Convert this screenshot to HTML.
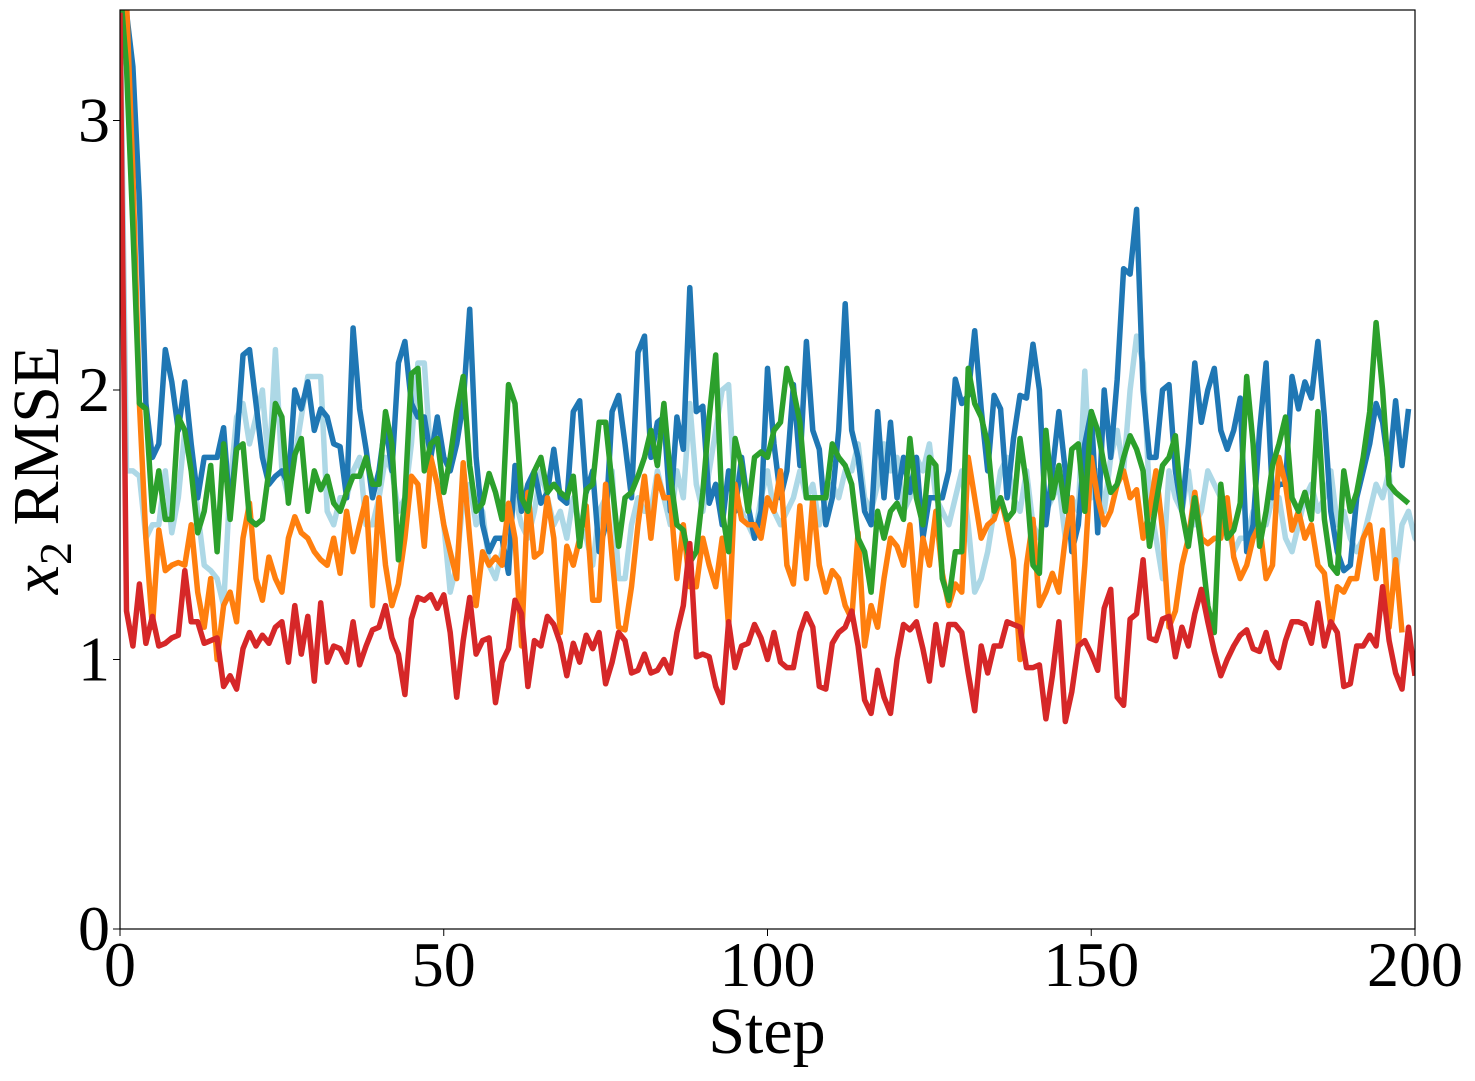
<!DOCTYPE html>
<html><head><meta charset="utf-8"><style>
body{margin:0;background:#fff;}
svg text{font-family:"Liberation Serif",serif;fill:#000;}
</style></head><body>
<svg id="chart" width="1475" height="1076" xmlns="http://www.w3.org/2000/svg">
<defs><clipPath id="clip"><rect x="120" y="10" width="1295" height="919"/></clipPath></defs>
<rect x="0" y="0" width="1475" height="1076" fill="#fff"/>
<g id="series" clip-path="url(#clip)"></g>
<rect x="120" y="10" width="1295" height="919" fill="none" stroke="#000" stroke-width="1.2"/>
<g id="axes"></g>
<text x="767" y="1053" font-size="66" text-anchor="middle">Step</text>
<text transform="translate(58,470) rotate(-90)" font-size="66" text-anchor="middle"><tspan font-style="italic">x</tspan><tspan font-size="46" dy="13">2</tspan><tspan dy="-13"> RMSE</tspan></text>
</svg>
<script>
const xTicks=[0,50,100,150,200];
const yTicks=[0,1,2,3];
const lightBlue=[3.5,1.7,1.7,1.68,1.45,1.5,1.5,1.7,1.47,1.6,1.85,1.75,1.55,1.35,1.33,1.3,1.2,1.65,1.9,1.95,1.8,1.9,2.0,1.7,2.15,1.7,1.6,1.75,1.9,2.05,2.05,2.05,1.55,1.5,1.6,1.6,1.7,1.75,1.5,1.5,1.6,1.75,1.7,1.55,1.6,1.8,2.1,2.1,1.75,1.65,1.5,1.25,1.35,1.6,1.65,1.5,1.55,1.35,1.3,1.4,1.55,1.6,1.5,1.45,1.55,1.7,1.6,1.5,1.55,1.45,1.6,1.5,1.45,1.35,1.55,1.6,1.7,1.3,1.3,1.5,1.6,1.55,1.55,1.7,1.6,1.5,1.7,1.6,1.95,1.65,1.55,1.7,1.85,2.0,2.02,1.6,1.55,1.5,1.45,1.6,1.7,1.55,1.5,1.55,1.6,1.7,1.6,1.65,1.5,1.6,1.65,1.6,1.7,1.7,1.8,1.6,1.55,1.65,1.8,1.7,1.75,1.55,1.6,1.75,1.7,1.8,1.6,1.55,1.5,1.6,1.7,1.5,1.25,1.3,1.4,1.55,1.7,1.75,1.6,1.55,1.7,1.5,1.45,1.55,1.6,1.65,1.45,1.6,1.55,2.07,1.6,1.7,1.55,1.75,1.85,1.7,2.0,2.2,2.1,1.6,1.45,1.3,1.7,1.6,1.55,1.7,1.5,1.55,1.7,1.65,1.6,1.5,1.4,1.45,1.45,1.55,1.5,1.5,1.6,1.6,1.45,1.4,1.5,1.6,1.65,1.55,1.6,1.7,1.5,1.55,1.45,1.4,1.45,1.55,1.65,1.6,1.7,1.3,1.5,1.55,1.45,1.42,1.47];
const blue=[3.5,3.4,3.2,2.7,1.95,1.75,1.8,2.15,2.03,1.85,2.03,1.8,1.6,1.75,1.75,1.75,1.86,1.55,1.8,2.13,2.15,1.95,1.75,1.65,1.68,1.7,1.65,2.0,1.93,2.03,1.85,1.93,1.9,1.8,1.79,1.6,2.23,1.93,1.78,1.6,1.7,1.88,1.7,2.1,2.18,1.95,1.9,1.9,1.75,1.9,1.75,1.7,1.8,1.95,2.3,1.75,1.5,1.4,1.45,1.45,1.32,1.72,1.55,1.65,1.7,1.58,1.62,1.78,1.6,1.58,1.92,1.96,1.62,1.7,1.4,1.5,1.92,1.98,1.8,1.6,2.14,2.2,1.75,1.88,1.9,1.55,1.9,1.78,2.38,1.92,1.94,1.58,1.65,1.5,1.7,1.55,1.75,1.57,1.45,1.55,2.08,1.8,1.6,1.7,2.02,1.72,2.18,1.85,1.78,1.5,1.6,1.85,2.32,1.85,1.75,1.55,1.5,1.92,1.6,1.88,1.6,1.75,1.62,1.75,1.45,1.6,1.6,1.6,1.7,2.04,1.95,1.98,2.22,1.93,1.7,1.98,1.93,1.6,1.82,1.98,1.97,2.17,2.0,1.5,1.7,1.92,1.7,1.4,1.5,1.8,1.92,1.47,2.0,1.75,2.04,2.45,2.43,2.67,2.0,1.75,1.75,2.0,2.02,1.7,1.55,1.8,2.1,1.88,2.0,2.08,1.85,1.78,1.85,1.97,1.4,1.5,1.85,2.1,1.6,1.65,1.65,2.05,1.93,2.03,1.97,2.18,1.9,1.55,1.4,1.33,1.35,1.6,1.7,1.8,1.95,1.88,1.7,1.96,1.72,1.93];
const orange=[3.5,3.45,2.8,1.95,1.45,1.12,1.48,1.33,1.35,1.36,1.35,1.5,1.25,1.12,1.3,1.0,1.2,1.25,1.14,1.45,1.58,1.3,1.22,1.38,1.3,1.25,1.45,1.53,1.47,1.45,1.4,1.37,1.35,1.45,1.32,1.55,1.4,1.5,1.6,1.2,1.6,1.35,1.2,1.28,1.45,1.68,1.65,1.42,1.75,1.65,1.5,1.4,1.3,1.73,1.45,1.2,1.4,1.35,1.38,1.35,1.58,1.45,1.05,1.62,1.38,1.4,1.6,1.45,1.1,1.42,1.35,1.45,1.57,1.22,1.22,1.65,1.38,1.12,1.11,1.27,1.5,1.68,1.45,1.68,1.6,1.6,1.3,1.5,1.27,1.27,1.45,1.35,1.27,1.45,1.12,1.65,1.52,1.5,1.5,1.45,1.6,1.55,1.7,1.35,1.28,1.57,1.3,1.6,1.35,1.25,1.33,1.3,1.2,1.15,1.47,1.05,1.2,1.12,1.3,1.45,1.42,1.35,1.5,1.2,1.45,1.35,1.55,1.32,1.2,1.28,1.25,1.75,1.6,1.45,1.5,1.52,1.6,1.5,1.37,1.0,1.35,1.52,1.2,1.25,1.32,1.25,1.45,1.6,1.05,1.35,1.75,1.6,1.5,1.55,1.65,1.7,1.6,1.63,1.45,1.55,1.7,1.48,1.12,1.18,1.35,1.45,1.62,1.45,1.43,1.45,1.45,1.6,1.38,1.3,1.35,1.45,1.5,1.3,1.35,1.75,1.65,1.48,1.55,1.45,1.5,1.35,1.32,1.12,1.27,1.25,1.3,1.3,1.45,1.5,1.3,1.48,1.12,1.37,1.1];
const green=[3.5,3.2,2.6,1.95,1.93,1.55,1.7,1.52,1.52,1.9,1.85,1.7,1.47,1.55,1.72,1.4,1.8,1.52,1.78,1.8,1.52,1.5,1.52,1.7,1.95,1.9,1.58,1.76,1.82,1.55,1.7,1.63,1.68,1.58,1.55,1.62,1.68,1.68,1.75,1.65,1.65,1.92,1.8,1.37,1.6,2.06,2.08,1.7,1.8,1.82,1.62,1.75,1.92,2.05,1.72,1.55,1.58,1.69,1.62,1.52,2.02,1.95,1.6,1.55,1.7,1.75,1.62,1.65,1.62,1.6,1.68,1.42,1.63,1.65,1.88,1.88,1.65,1.42,1.6,1.62,1.68,1.75,1.85,1.72,1.95,1.68,1.5,1.48,1.36,1.4,1.62,1.9,2.13,1.55,1.4,1.82,1.72,1.55,1.75,1.77,1.75,1.85,1.88,2.08,2.0,1.88,1.6,1.6,1.6,1.6,1.8,1.75,1.72,1.65,1.45,1.4,1.25,1.55,1.45,1.55,1.58,1.52,1.82,1.6,1.5,1.75,1.72,1.3,1.22,1.4,1.4,2.08,1.95,1.9,1.8,1.55,1.6,1.52,1.55,1.82,1.65,1.35,1.32,1.85,1.6,1.72,1.55,1.78,1.8,1.55,1.92,1.85,1.72,1.62,1.65,1.75,1.83,1.78,1.7,1.42,1.58,1.72,1.75,1.83,1.55,1.42,1.6,1.42,1.2,1.1,1.65,1.45,1.48,1.58,2.05,1.8,1.42,1.55,1.72,1.8,1.9,1.6,1.55,1.62,1.52,1.92,1.52,1.35,1.32,1.7,1.55,1.62,1.75,1.92,2.25,2.0,1.65,1.62,1.6,1.58];
const red=[3.4,1.18,1.05,1.28,1.06,1.16,1.05,1.06,1.08,1.09,1.33,1.14,1.14,1.06,1.07,1.08,0.9,0.94,0.89,1.04,1.1,1.05,1.09,1.06,1.12,1.14,0.99,1.2,1.02,1.16,0.92,1.21,0.99,1.05,1.04,0.99,1.14,0.98,1.05,1.11,1.12,1.2,1.08,1.02,0.87,1.15,1.23,1.22,1.24,1.19,1.24,1.1,0.86,1.07,1.23,1.02,1.07,1.08,0.84,0.99,1.04,1.22,1.17,0.9,1.07,1.05,1.16,1.13,1.06,0.94,1.06,0.99,1.09,1.04,1.1,0.91,0.99,1.1,1.07,0.95,0.96,1.02,0.95,0.96,1.0,0.95,1.1,1.2,1.43,1.01,1.02,1.01,0.9,0.84,1.14,0.97,1.05,1.06,1.13,1.08,1.0,1.1,0.99,0.97,0.97,1.1,1.17,1.12,0.9,0.89,1.06,1.1,1.12,1.18,1.05,0.85,0.8,0.96,0.86,0.8,1.0,1.13,1.11,1.14,1.04,0.92,1.13,0.98,1.13,1.13,1.1,0.95,0.81,1.05,0.95,1.05,1.05,1.14,1.13,1.12,0.97,0.97,0.98,0.78,0.94,1.14,0.77,0.88,1.05,1.07,1.02,0.96,1.19,1.26,0.86,0.83,1.15,1.17,1.37,1.08,1.07,1.15,1.16,1.01,1.12,1.05,1.17,1.26,1.14,1.03,0.94,1.0,1.05,1.09,1.11,1.04,1.03,1.1,1.0,0.97,1.07,1.14,1.14,1.13,1.06,1.21,1.05,1.14,1.1,0.9,0.91,1.05,1.05,1.09,1.05,1.27,1.07,0.95,0.89,1.12,0.94];

const X0=120,X1=1415,Y0=929,YPER=269.5;
function xs(v){return X0+(v/200)*(X1-X0);}
function ys(v){return Y0-v*YPER;}
const NS="http://www.w3.org/2000/svg";
const g=document.getElementById('series');
const seriesList=[["series-light-blue",lightBlue,"#add8e6"],["series-blue",blue,"#1f77b4"],["series-orange",orange,"#ff7f0e"],["series-green",green,"#2ca02c"],["series-red",red,"#d62728"]];
seriesList.forEach(function(s){
  const p=document.createElementNS(NS,'polyline');
  p.setAttribute('points',s[1].map(function(v,i){return xs(i).toFixed(1)+','+ys(v).toFixed(1);}).join(' '));
  p.setAttribute('fill','none');p.setAttribute('stroke',s[2]);p.setAttribute('stroke-width','5.5');p.setAttribute('stroke-linejoin','round');
  
  
  g.appendChild(p);
});
const ax=document.getElementById('axes');
xTicks.forEach(function(t){
  const l=document.createElementNS(NS,'line');
  l.setAttribute('x1',xs(t));l.setAttribute('x2',xs(t));l.setAttribute('y1',Y0);l.setAttribute('y2',Y0+7);l.setAttribute('stroke','#000');
  
  
  ax.appendChild(l);
  const tx=document.createElementNS(NS,'text');
  tx.setAttribute('x',xs(t));tx.setAttribute('y',986);tx.setAttribute('font-size','64');tx.setAttribute('text-anchor','middle');
  tx.textContent=t;
  
  
  ax.appendChild(tx);
});
yTicks.forEach(function(t){
  const l=document.createElementNS(NS,'line');
  l.setAttribute('x1',X0-7);l.setAttribute('x2',X0);l.setAttribute('y1',ys(t));l.setAttribute('y2',ys(t));l.setAttribute('stroke','#000');
  
  
  ax.appendChild(l);
  const tx=document.createElementNS(NS,'text');
  tx.setAttribute('x',110);tx.setAttribute('y',ys(t)+21);tx.setAttribute('font-size','64');tx.setAttribute('text-anchor','end');
  tx.textContent=t;
  
  
  ax.appendChild(tx);
});
</script>
</body></html>
